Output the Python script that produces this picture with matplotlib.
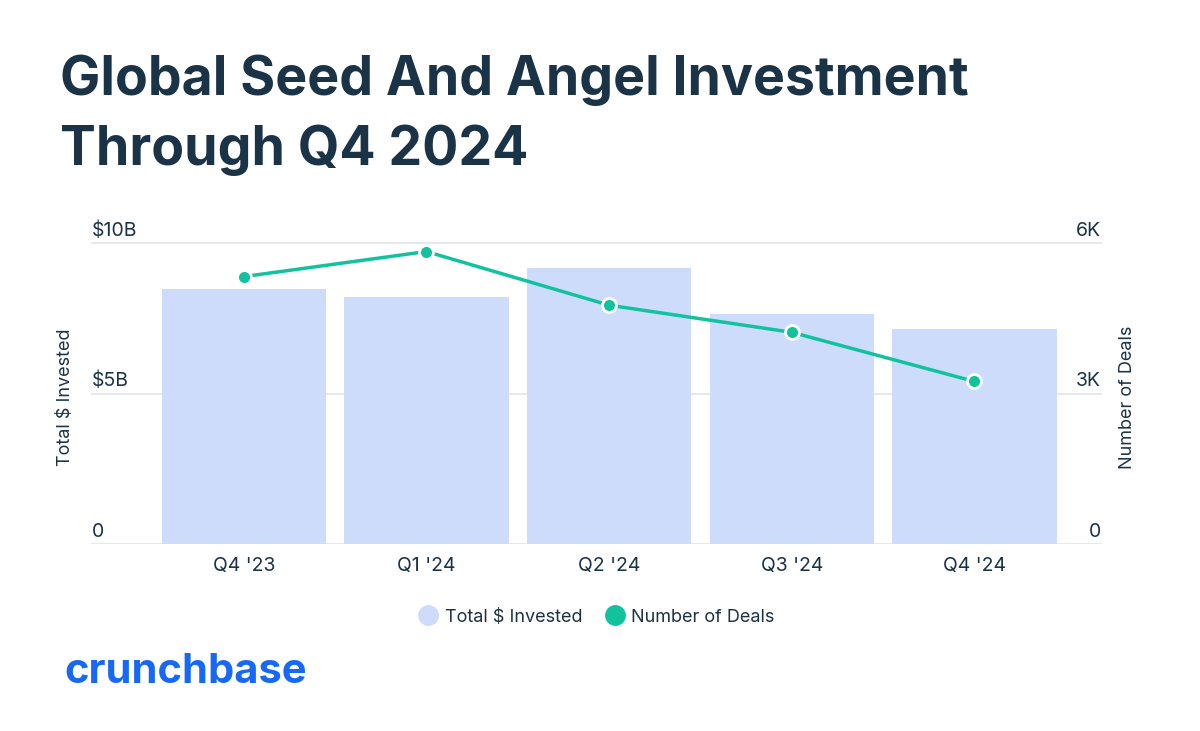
import matplotlib
matplotlib.use("Agg")
import matplotlib.pyplot as plt
from matplotlib.lines import Line2D
from matplotlib.transforms import offset_copy, blended_transform_factory

plt.rcParams['font.family'] = ['Inter', 'DejaVu Sans']

categories = ["Q4 '23", "Q1 '24", "Q2 '24", "Q3 '24", "Q4 '24"]
invested_b = [8.47, 8.22, 9.17, 7.63, 7.13]      # $B
deals = [5330, 5830, 4760, 4220, 3240]
left_ticks = [0, 5, 10]
left_tick_labels = ["0", "$5B", "$10B"]
right_ticks = [0, 3000, 6000]
right_tick_labels = ["0", "3K", "6K"]

NAVY = "#1b3346"
BAR = "#cddcfb"
GREEN = "#12c29f"
GRID = "#e6e8eb"
BLUE = "#1769f5"

W, H = 1200, 731
fig = plt.figure(figsize=(W / 100, H / 100), dpi=100)
fig.patch.set_facecolor("white")

ax = fig.add_axes([91 / W, (H - 544) / H, (1102 - 91) / W, (544 - 230) / H])
x = list(range(len(categories)))
ax.bar(x, invested_b, width=0.9, color=BAR, zorder=2)
ax.set_xlim(-0.836, 4.698)
ymax_left = 10 * (544 - 230) / (544 - 243)
ax.set_ylim(0, ymax_left)
ax.set_yticks(left_ticks)
ax.set_yticklabels([])
ax.tick_params(axis="y", length=0)
ax.grid(axis="y", color=GRID, linewidth=1.5, zorder=0)
ax.set_axisbelow(True)
for s in ax.spines.values():
    s.set_visible(False)
ax.set_xticks(x)
ax.set_xticklabels(categories, fontsize=14, color=NAVY)
ax.tick_params(axis="x", length=0, pad=9)

ax2 = ax.twinx()
ax2.set_ylim(0, 6000 * ymax_left / 10)
ax2.plot(x, deals, color=GREEN, linewidth=2.5, marker="o", markersize=10,
         markerfacecolor=GREEN, markeredgecolor="white", markeredgewidth=2, zorder=5)
ax2.set_yticks(right_ticks)
ax2.set_yticklabels([])
ax2.tick_params(axis="y", length=0)
for s in ax2.spines.values():
    s.set_visible(False)

# Tick labels sitting above gridlines
trL = offset_copy(blended_transform_factory(ax.transAxes, ax.transData), fig=fig, x=1, y=3, units="dots")
for v, lab in zip(left_ticks, left_tick_labels):
    ax.text(0, v, lab, transform=trL, ha="left", va="bottom", fontsize=14, color=NAVY)
trR = offset_copy(blended_transform_factory(ax2.transAxes, ax2.transData), fig=fig, x=-1, y=3, units="dots")
for v, lab in zip(right_ticks, right_tick_labels):
    ax2.text(1, v, lab, transform=trR, ha="right", va="bottom", fontsize=14, color=NAVY)

# Axis titles
fig.text(65 / W, 1 - 397 / H, "Total $ Invested", rotation=90, ha="center", va="center",
         fontsize=13, color=NAVY)
fig.text(1127 / W, 1 - 397 / H, "Number of Deals", rotation=90, ha="center", va="center",
         fontsize=13, color=NAVY)

# Title
fig.text(60 / W, 1 - 95 / H, "Global Seed And Angel Investment", ha="left", va="baseline",
         fontsize=38.6, fontweight="bold", color=NAVY)
fig.text(60 / W, 1 - 165 / H, "Through Q4 2024", ha="left", va="baseline",
         fontsize=38.6, fontweight="bold", color=NAVY)

# Legend
handles = [
    Line2D([], [], linestyle="none", marker="o", markersize=14, markerfacecolor=BAR, markeredgecolor=BAR),
    Line2D([], [], linestyle="none", marker="o", markersize=14, markerfacecolor=GREEN, markeredgecolor=GREEN),
]
fig.legend(handles, ["Total $ Invested", "Number of Deals"], loc="center",
           bbox_to_anchor=(596 / W, 1 - 617 / H), ncol=2, frameon=False,
           fontsize=13, labelcolor=NAVY, handletextpad=0.3, columnspacing=1.2, handlelength=1.2)

# Logo text
fig.text(64 / W, 1 - 683 / H, "crunchbase", ha="left", va="baseline",
         fontsize=30, fontweight="bold", color=BLUE)

fig.savefig("out.png", dpi=100, facecolor="white")
